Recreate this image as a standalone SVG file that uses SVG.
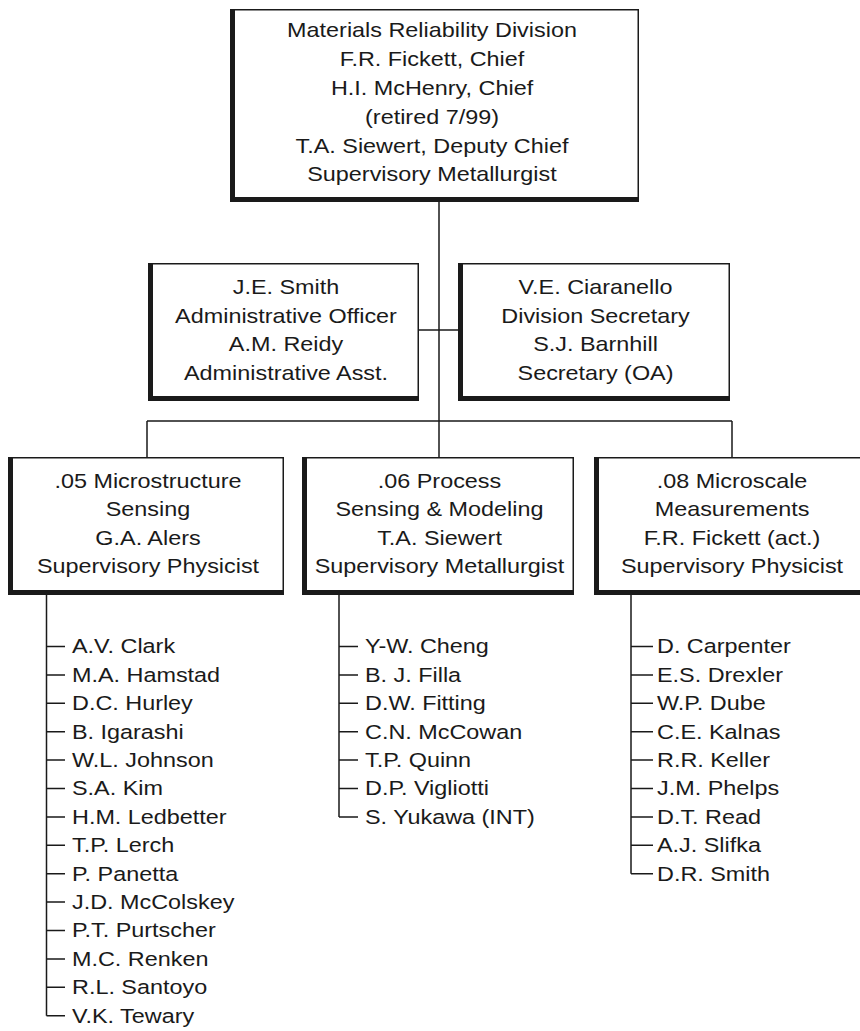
<svg xmlns="http://www.w3.org/2000/svg" width="860" height="1031" viewBox="0 0 860 1031">
<style>
.frame{fill:#1a1a1a}
.face{fill:#ffffff}
.t{font-family:"Liberation Sans",Arial,sans-serif;font-size:20px;fill:#1a1a1a;text-anchor:middle}
.l{font-family:"Liberation Sans",Arial,sans-serif;font-size:19.5px;fill:#1a1a1a}
.c{stroke:#1a1a1a;stroke-width:1.5;fill:none}
</style>
<rect width="860" height="1031" fill="#ffffff"/>
<g id="connectors">
<path class="c" d="M439,202 V421 M419,330 H458 M147,421 H732 M147,421 V457 M439,421 V457 M732,421 V457"/>
<path class="c" d="M46.5,595 V1015.7 M46.5,646.5 H65 M46.5,674.9 H65 M46.5,703.3 H65 M46.5,731.7 H65 M46.5,760.1 H65 M46.5,788.5 H65 M46.5,816.9 H65 M46.5,845.3 H65 M46.5,873.7 H65 M46.5,902.1 H65 M46.5,930.5 H65 M46.5,958.9 H65 M46.5,987.3 H65 M46.5,1015.7 H65"/>
<path class="c" d="M339,595 V816.9 M339,646.5 H358 M339,674.9 H358 M339,703.3 H358 M339,731.7 H358 M339,760.1 H358 M339,788.5 H358 M339,816.9 H358"/>
<path class="c" d="M631,595 V873.7 M631,646.5 H653 M631,674.9 H653 M631,703.3 H653 M631,731.7 H653 M631,760.1 H653 M631,788.5 H653 M631,816.9 H653 M631,845.3 H653 M631,873.7 H653"/>
</g>
<g id="division">
<rect class="frame" x="230" y="9" width="409" height="193"/>
<rect class="face" x="235" y="10.5" width="402.5" height="186.5"/>
<text class="t" transform="translate(432,0) scale(1.17,1)"><tspan x="0" y="37.5">Materials Reliability Division</tspan><tspan x="0" y="66.3">F.R. Fickett, Chief</tspan><tspan x="0" y="95.1">H.I. McHenry, Chief</tspan><tspan x="0" y="123.9">(retired 7/99)</tspan><tspan x="0" y="152.7">T.A. Siewert, Deputy Chief</tspan><tspan x="0" y="181.5">Supervisory Metallurgist</tspan></text>
</g>
<g id="admin">
<rect class="frame" x="148" y="263" width="271" height="138"/>
<rect class="face" x="153" y="264.5" width="264.5" height="131.5"/>
<text class="t" transform="translate(286,0) scale(1.17,1)"><tspan x="0" y="294">J.E. Smith</tspan><tspan x="0" y="322.7">Administrative Officer</tspan><tspan x="0" y="351.4">A.M. Reidy</tspan><tspan x="0" y="380.1">Administrative Asst.</tspan></text>
</g>
<g id="secretary">
<rect class="frame" x="458" y="263" width="272" height="138"/>
<rect class="face" x="463" y="264.5" width="265.5" height="131.5"/>
<text class="t" transform="translate(595.5,0) scale(1.17,1)"><tspan x="0" y="294">V.E. Ciaranello</tspan><tspan x="0" y="322.7">Division Secretary</tspan><tspan x="0" y="351.4">S.J. Barnhill</tspan><tspan x="0" y="380.1">Secretary (OA)</tspan></text>
</g>
<g id="g05">
<rect class="frame" x="8" y="457" width="276" height="138"/>
<rect class="face" x="13" y="458.5" width="269.5" height="131.5"/>
<text class="t" transform="translate(148,0) scale(1.17,1)"><tspan x="0" y="488">.05 Microstructure</tspan><tspan x="0" y="516.4">Sensing</tspan><tspan x="0" y="544.8">G.A. Alers</tspan><tspan x="0" y="573.2">Supervisory Physicist</tspan></text>
</g>
<g id="g06">
<rect class="frame" x="302" y="457" width="272" height="138"/>
<rect class="face" x="307" y="458.5" width="265.5" height="131.5"/>
<text class="t" transform="translate(439.5,0) scale(1.17,1)"><tspan x="0" y="488">.06 Process</tspan><tspan x="0" y="516.4">Sensing &amp; Modeling</tspan><tspan x="0" y="544.8">T.A. Siewert</tspan><tspan x="0" y="573.2">Supervisory Metallurgist</tspan></text>
</g>
<g id="g08">
<rect class="frame" x="594" y="457" width="272" height="138"/>
<rect class="face" x="599" y="458.5" width="265.5" height="131.5"/>
<text class="t" transform="translate(732,0) scale(1.17,1)"><tspan x="0" y="488">.08 Microscale</tspan><tspan x="0" y="516.4">Measurements</tspan><tspan x="0" y="544.8">F.R. Fickett (act.)</tspan><tspan x="0" y="573.2">Supervisory Physicist</tspan></text>
</g>
<g id="staff05">
<text class="l" transform="translate(72,0) scale(1.2,1)"><tspan x="0" y="653.5">A.V. Clark</tspan><tspan x="0" y="681.9">M.A. Hamstad</tspan><tspan x="0" y="710.3">D.C. Hurley</tspan><tspan x="0" y="738.7">B. Igarashi</tspan><tspan x="0" y="767.1">W.L. Johnson</tspan><tspan x="0" y="795.5">S.A. Kim</tspan><tspan x="0" y="823.9">H.M. Ledbetter</tspan><tspan x="0" y="852.3">T.P. Lerch</tspan><tspan x="0" y="880.7">P. Panetta</tspan><tspan x="0" y="909.1">J.D. McColskey</tspan><tspan x="0" y="937.5">P.T. Purtscher</tspan><tspan x="0" y="965.9">M.C. Renken</tspan><tspan x="0" y="994.3">R.L. Santoyo</tspan><tspan x="0" y="1022.7">V.K. Tewary</tspan></text>
</g>
<g id="staff06">
<text class="l" transform="translate(365,0) scale(1.2,1)"><tspan x="0" y="653.5">Y-W. Cheng</tspan><tspan x="0" y="681.9">B. J. Filla</tspan><tspan x="0" y="710.3">D.W. Fitting</tspan><tspan x="0" y="738.7">C.N. McCowan</tspan><tspan x="0" y="767.1">T.P. Quinn</tspan><tspan x="0" y="795.5">D.P. Vigliotti</tspan><tspan x="0" y="823.9">S. Yukawa (INT)</tspan></text>
</g>
<g id="staff08">
<text class="l" transform="translate(657,0) scale(1.2,1)"><tspan x="0" y="653.5">D. Carpenter</tspan><tspan x="0" y="681.9">E.S. Drexler</tspan><tspan x="0" y="710.3">W.P. Dube</tspan><tspan x="0" y="738.7">C.E. Kalnas</tspan><tspan x="0" y="767.1">R.R. Keller</tspan><tspan x="0" y="795.5">J.M. Phelps</tspan><tspan x="0" y="823.9">D.T. Read</tspan><tspan x="0" y="852.3">A.J. Slifka</tspan><tspan x="0" y="880.7">D.R. Smith</tspan></text>
</g>
</svg>
